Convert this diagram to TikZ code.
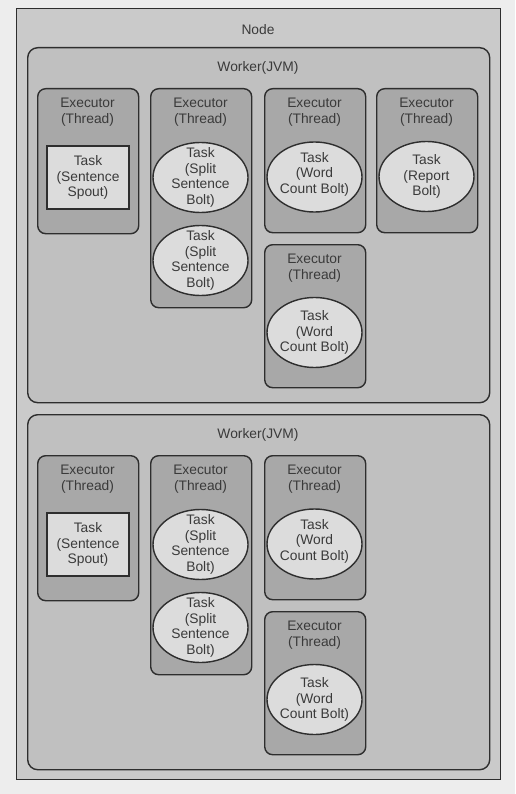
\documentclass[tikz,border=0pt]{standalone}
\usepackage{fontspec}
\setmainfont{Liberation Sans}
\usetikzlibrary{shapes.geometric}
\definecolor{pagebg}{HTML}{EDEDED}
\definecolor{nodefill}{HTML}{CACACA}
\definecolor{workerfill}{HTML}{C0C0C0}
\definecolor{execfill}{HTML}{A8A8A8}
\definecolor{taskfill}{HTML}{DCDCDC}
\definecolor{linec}{HTML}{2E2E2E}
\definecolor{inkc}{HTML}{3A3A3A}
\begin{document}
\begin{tikzpicture}[x=1pt,y=-1pt,
  txt/.style={font=\fontsize{13.8}{15.5}\selectfont, text=inkc, align=center, inner sep=0pt},
  nodebox/.style={draw=linec, line width=1.4pt, fill=nodefill, anchor=north west, inner sep=0pt},
  workerbox/.style={draw=linec, line width=1.4pt, fill=workerfill, rounded corners=10pt, anchor=north west, inner sep=0pt, minimum width=462pt, minimum height=355pt},
  execbox/.style={draw=linec, line width=1.4pt, fill=execfill, rounded corners=8pt, anchor=north west, inner sep=0pt, minimum width=101pt},
  taskrect/.style={txt, draw=linec, line width=1.6pt, fill=taskfill, minimum width=82pt, minimum height=63pt},
  taskell/.style={ellipse, draw=linec, line width=1.4pt, fill=taskfill, inner sep=0pt, minimum width=95pt, minimum height=70pt},
]
\fill[pagebg] (0,0) rectangle (515,794);
\useasboundingbox (0,0) rectangle (515,794);
\node[nodebox, minimum width=484pt, minimum height=771pt] (node) at (16,8) {};
\node[txt] (nodelbl) at (258,30) {Node};

% ---------- Worker 1 ----------
\node[workerbox] (w1) at (27,47) {};
\node[txt] (w1lbl) at (258,68) {Worker(JVM)};
\node[execbox, minimum height=145pt] (w1e1) at (37,88) {};
\node[execbox, minimum height=219pt] (w1e2) at (150,88) {};
\node[execbox, minimum height=144pt] (w1e3) at (264,88) {};
\node[execbox, minimum height=144pt] (w1e4) at (376,88) {};
\node[execbox, minimum height=143pt] (w1e5) at (264,244) {};
\node[txt] (w1e1l) at (87.5,112) {Executor\\(Thread)};
\node[txt] (w1e2l) at (200.5,112) {Executor\\(Thread)};
\node[txt] (w1e3l) at (314.5,112) {Executor\\(Thread)};
\node[txt] (w1e4l) at (426.5,112) {Executor\\(Thread)};
\node[txt] (w1e5l) at (314.5,268) {Executor\\(Thread)};
\node[taskrect] (w1t1) at (88,177.5) {Task\\(Sentence\\Spout)};
\node[taskell] (w1t2) at (200.5,177.5) {};
\node[txt] (w1t2l) at (w1t2) {Task\\(Split\\Sentence\\Bolt)};
\node[taskell] (w1t3) at (200.5,260.5) {};
\node[txt] (w1t3l) at (w1t3) {Task\\(Split\\Sentence\\Bolt)};
\node[taskell] (w1t4) at (314.5,177) {};
\node[txt] (w1t4l) at ([yshift=3pt]w1t4) {Task\\(Word\\Count Bolt)};
\node[taskell] (w1t5) at (426.5,176.5) {};
\node[txt] (w1t5l) at (w1t5) {Task\\(Report\\Bolt)};
\node[taskell] (w1t6) at (314.5,332.5) {};
\node[txt] (w1t6l) at (w1t6) {Task\\(Word\\Count Bolt)};

% ---------- Worker 2 ----------
\begin{scope}[yshift=-367pt]
\node[workerbox] (w2) at (27,47) {};
\node[txt] (w2lbl) at (258,68) {Worker(JVM)};
\node[execbox, minimum height=145pt] (w2e1) at (37,88) {};
\node[execbox, minimum height=219pt] (w2e2) at (150,88) {};
\node[execbox, minimum height=144pt] (w2e3) at (264,88) {};
\node[execbox, minimum height=143pt] (w2e5) at (264,244) {};
\node[txt] (w2e1l) at (87.5,112) {Executor\\(Thread)};
\node[txt] (w2e2l) at (200.5,112) {Executor\\(Thread)};
\node[txt] (w2e3l) at (314.5,112) {Executor\\(Thread)};
\node[txt] (w2e5l) at (314.5,268) {Executor\\(Thread)};
\node[taskrect] (w2t1) at (88,177.5) {Task\\(Sentence\\Spout)};
\node[taskell] (w2t2) at (200.5,177.5) {};
\node[txt] (w2t2l) at (w2t2) {Task\\(Split\\Sentence\\Bolt)};
\node[taskell] (w2t3) at (200.5,260.5) {};
\node[txt] (w2t3l) at (w2t3) {Task\\(Split\\Sentence\\Bolt)};
\node[taskell] (w2t4) at (314.5,177) {};
\node[txt] (w2t4l) at ([yshift=3pt]w2t4) {Task\\(Word\\Count Bolt)};
\node[taskell] (w2t6) at (314.5,332.5) {};
\node[txt] (w2t6l) at (w2t6) {Task\\(Word\\Count Bolt)};
\end{scope}
\end{tikzpicture}
\end{document}
